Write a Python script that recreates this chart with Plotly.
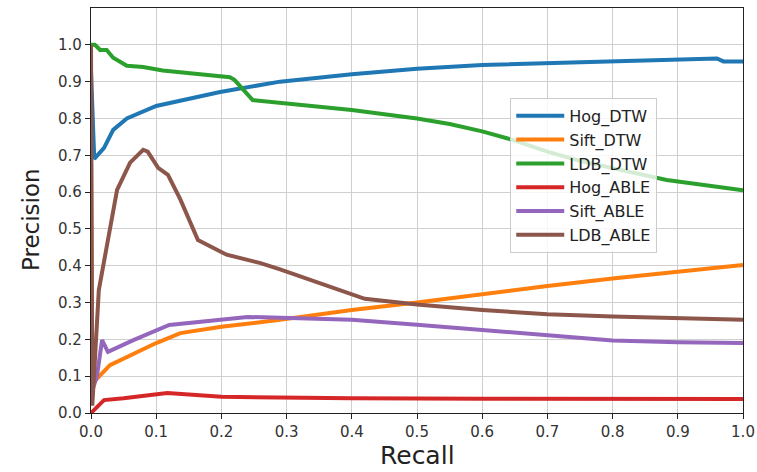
import plotly.graph_objects as go

# Precision-recall curves for DTW and ABLE matching with three descriptors
hog_dtw_r = [0.0, 0.005, 0.02, 0.034, 0.055, 0.10, 0.198, 0.29, 0.4, 0.5, 0.6, 0.7, 0.8, 0.9, 0.96, 0.97, 1.0]
hog_dtw_p = [0.93, 0.69, 0.72, 0.769, 0.80, 0.834, 0.872, 0.90, 0.92, 0.935, 0.945, 0.95, 0.955, 0.96, 0.963, 0.955, 0.955]

sift_dtw_r = [0.0, 0.002, 0.029, 0.10, 0.137, 0.20, 0.29, 0.4, 0.5, 0.6, 0.7, 0.8, 0.9, 1.0]
sift_dtw_p = [0.70, 0.08, 0.13, 0.19, 0.217, 0.234, 0.253, 0.28, 0.30, 0.323, 0.345, 0.365, 0.383, 0.402]

ldb_dtw_r = [0.0, 0.006, 0.014, 0.024, 0.034, 0.055, 0.08, 0.11, 0.213, 0.22, 0.248, 0.29, 0.4, 0.5, 0.55, 0.6, 0.65, 0.7, 0.75, 0.8, 0.883, 1.0]
ldb_dtw_p = [1.0, 1.0, 0.986, 0.986, 0.965, 0.943, 0.94, 0.93, 0.912, 0.905, 0.85, 0.843, 0.823, 0.80, 0.785, 0.765, 0.74, 0.71, 0.685, 0.665, 0.633, 0.605]

hog_able_r = [0.0, 0.02, 0.05, 0.117, 0.2, 0.4, 0.6, 0.8, 1.0]
hog_able_p = [0.0, 0.035, 0.04, 0.054, 0.044, 0.04, 0.039, 0.038, 0.038]

sift_able_r = [0.0, 0.009, 0.017, 0.026, 0.065, 0.12, 0.24, 0.29, 0.4, 0.5, 0.6, 0.7, 0.8, 0.9, 1.0]
sift_able_p = [0.05, 0.10, 0.198, 0.166, 0.198, 0.239, 0.261, 0.258, 0.253, 0.24, 0.225, 0.21, 0.197, 0.192, 0.19]

ldb_able_r = [0.0, 0.002, 0.012, 0.04, 0.06, 0.08, 0.087, 0.103, 0.118, 0.137, 0.164, 0.208, 0.26, 0.29, 0.42, 0.5, 0.6, 0.7, 0.8, 0.9, 1.0]
ldb_able_p = [1.0, 0.02, 0.334, 0.606, 0.68, 0.715, 0.71, 0.666, 0.647, 0.58, 0.47, 0.43, 0.407, 0.39, 0.31, 0.295, 0.28, 0.268, 0.262, 0.258, 0.253]

series = [
    ("Hog_DTW", hog_dtw_r, hog_dtw_p, "#1f77b4"),
    ("Sift_DTW", sift_dtw_r, sift_dtw_p, "#ff7f0e"),
    ("LDB_DTW", ldb_dtw_r, ldb_dtw_p, "#2ca02c"),
    ("Hog_ABLE", hog_able_r, hog_able_p, "#d62728"),
    ("Sift_ABLE", sift_able_r, sift_able_p, "#9467bd"),
    ("LDB_ABLE", ldb_able_r, ldb_able_p, "#8c564b"),
]

x_ticks = [round(i * 0.1, 1) for i in range(11)]
y_ticks = [round(i * 0.1, 1) for i in range(11)]

fig = go.Figure()
for name, r, p, color in series:
    fig.add_trace(go.Scatter(x=r, y=p, mode="lines", name=name,
                             line=dict(color=color, width=4)))

font_family = "DejaVu Sans"
axis_common = dict(
    showgrid=True, gridcolor="#cfcfcf", gridwidth=1,
    showline=True, linecolor="#222222", linewidth=1.2, mirror=True,
    ticks="outside", ticklen=5, tickcolor="#222222",
    tickfont=dict(family=font_family, size=15, color="#333333"),
    zeroline=False, automargin=False, ticklabeloverflow="allow",
)

fig.update_layout(
    width=757, height=472,
    margin=dict(l=91, r=14, t=8, b=59),
    paper_bgcolor="white", plot_bgcolor="white",
    font=dict(family=font_family),
    xaxis=dict(range=[0, 1.0], tickvals=x_ticks, tickformat=".1f", **axis_common),
    yaxis=dict(range=[0, 1.1], tickvals=y_ticks, tickformat=".1f", **axis_common),
    legend=dict(x=0.643, y=0.778, xanchor="left", yanchor="top",
                bgcolor="rgba(255,255,255,0.8)", bordercolor="#cccccc", borderwidth=1,
                font=dict(family=font_family, size=16, color="#222222"),
                tracegroupgap=0, itemwidth=48),
    showlegend=True,
    annotations=[
        dict(text="Recall", xref="paper", yref="paper", x=0.5, y=-0.1432,
             xanchor="center", yanchor="bottom", showarrow=False, borderpad=0,
             font=dict(family=font_family, size=25, color="#222222")),
        dict(text="Precision", xref="paper", yref="paper", x=-0.092, y=0.4765,
             xanchor="center", yanchor="middle", showarrow=False, textangle=-90,
             font=dict(family=font_family, size=23, color="#222222")),
    ],
)

fig.write_html("out.html")
